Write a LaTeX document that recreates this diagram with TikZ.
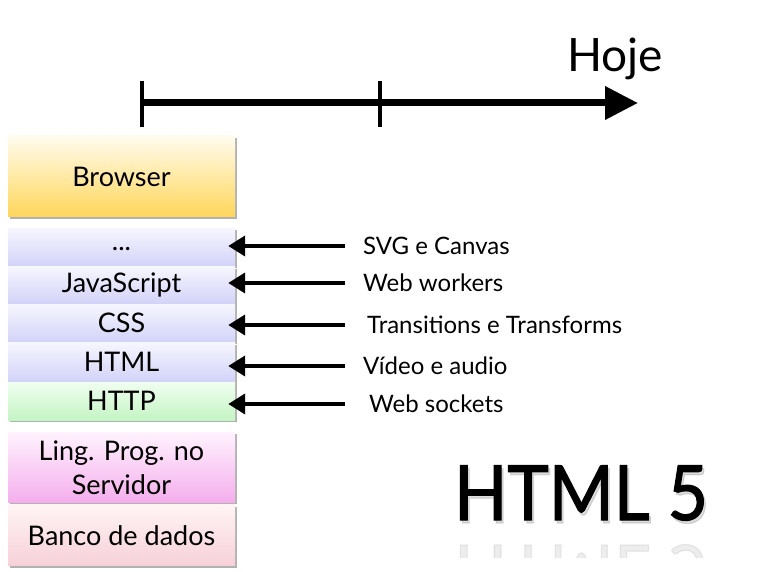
\documentclass[tikz,border=0pt]{standalone}
\usepackage{fontspec}
\setmainfont{Lato}
\newfontfamily\titlefont{Lato}[FakeBold=1.6]
\usetikzlibrary{arrows.meta,shadows,positioning}

\definecolor{browsertop}{HTML}{FFFCEE}
\definecolor{browserbot}{HTML}{FFD65A}
\definecolor{lavtop}{HTML}{F6F6FF}
\definecolor{lavbot}{HTML}{D2D2F8}
\definecolor{greentop}{HTML}{F0FFF0}
\definecolor{greenbot}{HTML}{C4F4C4}
\definecolor{pinktop}{HTML}{FFF2FE}
\definecolor{pinkbot}{HTML}{F4AEEC}
\definecolor{rosetop}{HTML}{FFF4F4}
\definecolor{rosebot}{HTML}{F6D0D8}

\begin{document}
\begin{tikzpicture}[x=1pt, y=-1pt,
    every node/.style={font=\fontsize{27}{31}\selectfont},
    layer/.style={shape=rectangle, inner sep=0pt, minimum width=227pt, align=center,
      drop shadow={shadow xshift=1.5pt, shadow yshift=-2pt, opacity=0.3, fill=black}},
    web/.style={layer, top color=lavtop, bottom color=lavbot},
    feat/.style={anchor=west, inner xsep=0pt, font=\fontsize{24}{28}\selectfont},
    featarrow/.style={line width=4pt, -{Triangle[length=17pt, width=20pt]}},
    title/.style={anchor=base, xscale=0.92, font=\titlefont\fontsize{76}{80}\selectfont}]
  \useasboundingbox (0,0) rectangle (763,572);

  % linha do tempo
  \coordinate (t0) at (142,103);
  \coordinate (t1) at (380,103);
  \coordinate (now) at (638,103);
  \draw[line width=7pt, -{Triangle[length=33pt, width=32pt]}] (t0) -- (now);
  \draw[line width=4.5pt] (t0) ++(0,-22) -- ++(0,46);
  \draw[line width=4.5pt] (t1) ++(0,-22) -- ++(0,46);
  \node[font=\fontsize{46}{50}\selectfont] (hoje) at (615,59) {Hoje};

  % pilha
  \node[layer, top color=browsertop, bottom color=browserbot, minimum height=81pt] (browser) at (121.5,176.5) {Browser};
  \node[web, minimum height=38pt, below=11pt of browser] (dots) {\raisebox{-6pt}{...}};
  \node[web, minimum height=37pt, below=0pt of dots] (js) {JavaScript};
  \node[web, minimum height=38pt, below=0pt of js] (css) {CSS};
  \node[web, minimum height=39pt, below=0pt of css] (html) {HTML};
  \node[layer, top color=greentop, bottom color=greenbot, minimum height=38pt, below=0pt of html] (http) {HTTP};
  \node[layer, top color=pinktop, bottom color=pinkbot, minimum height=70pt, below=12pt of http, font=\fontsize{27}{34}\selectfont] (ling) {Ling. Prog. no\\Servidor};
  \node[layer, top color=rosetop, bottom color=rosebot, minimum height=61pt, below=2pt of ling] (banco) {Banco de dados};

  % novidades
  \node[feat] (svg) at (363,246) {SVG e Canvas};
  \node[feat] (workers) at (363,283) {Web workers};
  \node[feat] (trans) at (367,325) {Transitions e Transforms};
  \node[feat] (video) at (363,366) {Vídeo e audio};
  \node[feat] (sockets) at (369,404) {Web sockets};
  \draw[featarrow] ([xshift=-18pt]svg.west) -- ([xshift=-7pt]svg.west -| dots.east);
  \draw[featarrow] ([xshift=-18pt]workers.west) -- ([xshift=-7pt]workers.west -| js.east);
  \draw[featarrow] ([xshift=-22pt]trans.west) -- ([xshift=-7pt]trans.west -| css.east);
  \draw[featarrow] ([xshift=-18pt]video.west) -- ([xshift=-7pt]video.west -| html.east);
  \draw[featarrow] ([xshift=-24pt]sockets.west) -- ([xshift=-7pt]sockets.west -| http.east);

  % titulo
  \begin{scope}
    \clip (440,544) rectangle (720,557);
    \node[title, yscale=-1, opacity=0.07] at (581,545) {HTML 5};
  \end{scope}
  \node[title, opacity=0.22, text=black!60] at (583,523) {HTML 5};
  \node[title] (titulo) at (581,520) {HTML 5};
\end{tikzpicture}
\end{document}
